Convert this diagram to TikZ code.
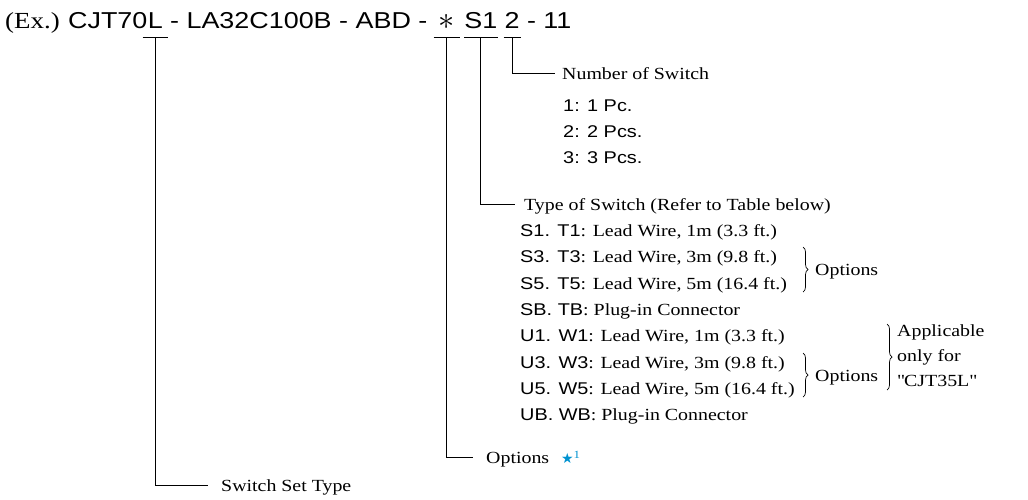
\documentclass[tikz,border=0pt]{standalone}
\usepackage{fontspec}
\setmainfont{Liberation Serif}[FakeStretch=1.17]
\setsansfont{Liberation Sans}[FakeStretch=1.17]
\newfontfamily\starfont{DejaVu Sans}
\usetikzlibrary{positioning}
\usetikzlibrary{calc}
\usetikzlibrary{decorations.pathreplacing}
\definecolor{starblue}{RGB}{0,146,208}

\tikzset{
  codetxt/.style={inner sep=0pt, font=\sffamily\fontsize{23}{27}\selectfont},
  lbl/.style={anchor=west, inner sep=0pt, text height=12pt, text depth=0pt, font=\fontsize{17}{20}\selectfont},
  lead/.style={line width=1pt},
  brace/.style={decorate, decoration={brace, amplitude=5pt}, line width=0.7pt},
}

\begin{document}
\begin{tikzpicture}[x=1pt, y=-1pt]
  \useasboundingbox (0,0) rectangle (1028,499);
  % model code
  \node[codetxt, anchor=base west, font=\rmfamily\fontsize{23}{27}\selectfont] (ex) at (5,28) {(Ex.)};
  \node[codetxt, base right=8pt of ex] (cjt) {CJT70};
  \node[codetxt, base right=0pt of cjt] (lcode) {L};
  \node[codetxt, base right=7pt of lcode] (mid) {- LA32C100B - ABD -};
  \node[codetxt, base right=11pt of mid] (ast) {\raisebox{-1.5pt}{\scalebox{1.3}{$\ast$}}};
  \node[codetxt, base right=9pt of ast] (sone) {S1};
  \node[codetxt, base right=7pt of sone] (two) {2};
  \node[codetxt, base right=7pt of two] (tail) {- 11};
  \foreach \n/\w in {lcode/5, ast/5, sone/0, two/1} {
    \draw[lead] ($(\n.base west)+(-\w,9)$) -- ($(\n.base east)+(\w,9)$);
    \coordinate (\n-foot) at ($(\n.base)+(0,9)$);
  }

  % number of switch
  \node[lbl] (numsw) at (562,73) {Number of Switch};
  \node[lbl] (pcone) at (563,105) {\sffamily 1: 1 Pc.};
  \node[lbl] (pctwo) at (563,131) {\sffamily 2: 2 Pcs.};
  \node[lbl] (pcthree) at (563,157) {\sffamily 3: 3 Pcs.};

  % type of switch
  \node[lbl] (typesw) at (524,204) {Type of Switch (Refer to Table below)};
  \node[lbl] (swone) at (520,230) {\textsf{S1. T1}: Lead Wire, 1m (3.3 ft.)};
  \node[lbl] (swthree) at (520,256) {\textsf{S3. T3}: Lead Wire, 3m (9.8 ft.)};
  \node[lbl] (swfive) at (520,283) {\textsf{S5. T5}: Lead Wire, 5m (16.4 ft.)};
  \node[lbl] (swplug) at (520,309) {\textsf{SB. TB}: Plug-in Connector};
  \node[lbl] (uwone) at (520,335) {\textsf{U1. W1}: Lead Wire, 1m (3.3 ft.)};
  \node[lbl] (uwthree) at (520,362) {\textsf{U3. W3}: Lead Wire, 3m (9.8 ft.)};
  \node[lbl] (uwfive) at (520,388) {\textsf{U5. W5}: Lead Wire, 5m (16.4 ft.)};
  \node[lbl] (uwplug) at (520,414) {\textsf{UB. WB}: Plug-in Connector};

  % braces
  \draw[brace] (803,247) -- (803,292);
  \node[lbl] (sopt) at (815,269) {Options};
  \draw[brace] (803,353) -- (803,397);
  \node[lbl] (uopt) at (815,375) {Options};
  \draw[brace] (887,324) -- (887,390);
  \node[lbl] (appone) at (897,330) {Applicable};
  \node[lbl] (apptwo) at (897,355) {only for};
  \node[lbl] (appthree) at (897,380) {\textquotedbl CJT35L\textquotedbl};

  % options and set type
  \node[lbl] (opts) at (486,457) {Options\hspace{12pt}\textcolor{starblue}{{\starfont\fontsize{14}{14}\selectfont ★}\raisebox{5pt}{\fontsize{11}{11}\selectfont 1}}};
  \node[lbl] (settype) at (221,485) {Switch Set Type};

  % leaders
  \draw[lead] (two-foot) |- ([xshift=-7pt]numsw.west);
  \draw[lead] (sone-foot) |- ([xshift=-9pt]typesw.west);
  \draw[lead] (ast-foot) |- ([xshift=-13pt]opts.west);
  \draw[lead] (lcode-foot) |- ([xshift=-13pt]settype.west);
\end{tikzpicture}
\end{document}
